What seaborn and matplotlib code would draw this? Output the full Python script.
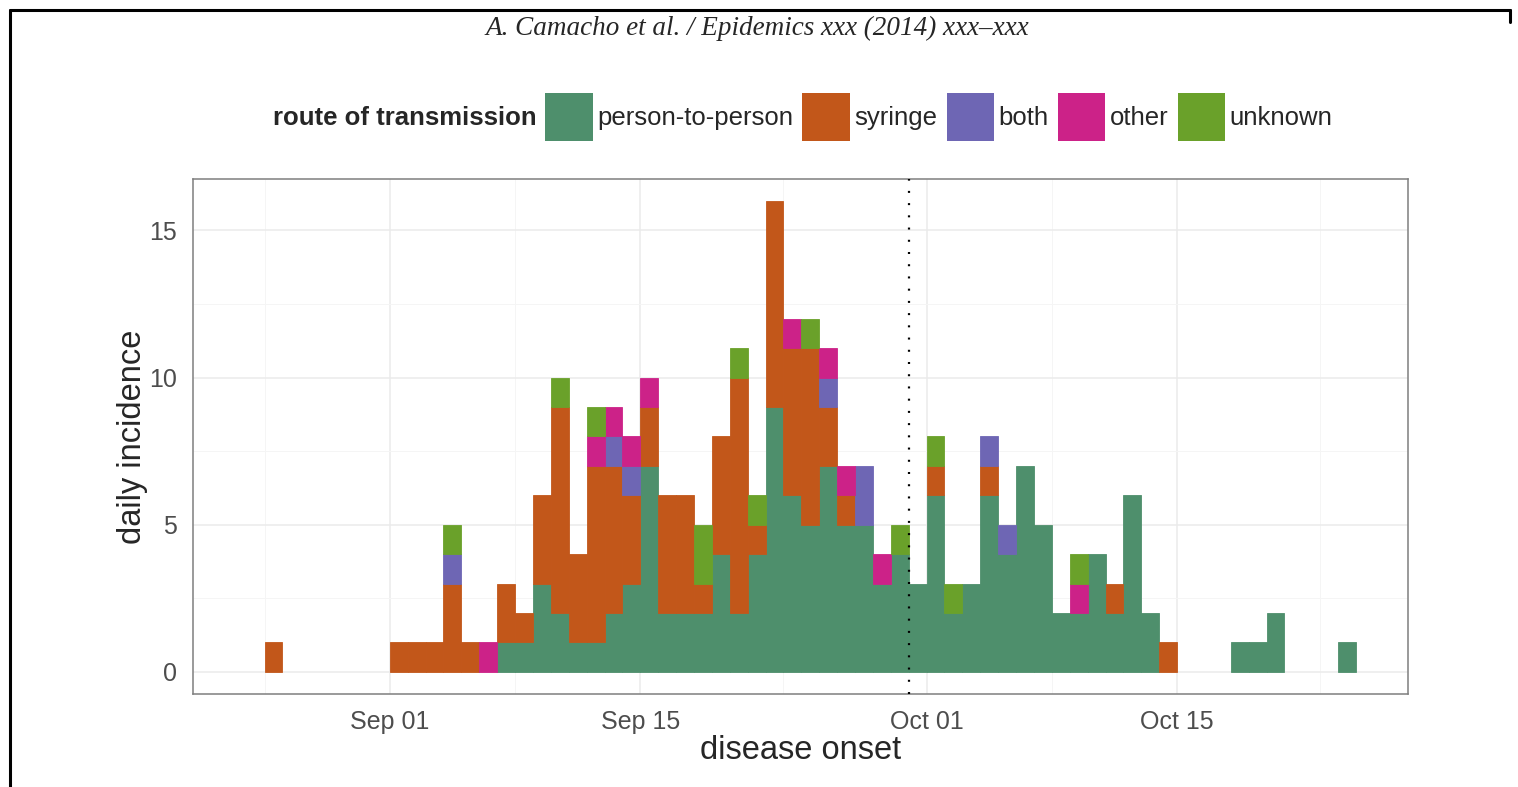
import numpy as np
import pandas as pd
import matplotlib
matplotlib.use("Agg")
import matplotlib.pyplot as plt
import matplotlib.dates as mdates
from matplotlib.patches import Patch
from matplotlib.lines import Line2D
import seaborn as sns

# days with at least one case
onset = ["2014-08-25",
         "2014-09-01", "2014-09-02", "2014-09-03", "2014-09-04", "2014-09-05",
         "2014-09-06", "2014-09-07", "2014-09-08", "2014-09-09", "2014-09-10",
         "2014-09-11", "2014-09-12", "2014-09-13", "2014-09-14", "2014-09-15",
         "2014-09-16", "2014-09-17", "2014-09-18", "2014-09-19", "2014-09-20",
         "2014-09-21", "2014-09-22", "2014-09-23", "2014-09-24", "2014-09-25",
         "2014-09-26", "2014-09-27", "2014-09-28", "2014-09-29", "2014-09-30",
         "2014-10-01", "2014-10-02", "2014-10-03", "2014-10-04", "2014-10-05",
         "2014-10-06", "2014-10-07", "2014-10-08", "2014-10-09", "2014-10-10",
         "2014-10-11", "2014-10-12", "2014-10-13", "2014-10-14",
         "2014-10-18", "2014-10-19", "2014-10-20", "2014-10-24"]

p2p     = [0,
           0, 0, 0, 0, 0, 0, 1, 1, 3, 2, 1, 1, 2, 3, 7, 2, 2, 2, 4, 2,
           4, 9, 6, 5, 7, 5, 5, 3, 4, 3,
           6, 2, 3, 6, 4, 7, 5, 2, 2, 4, 2, 6, 2, 0,
           1, 1, 2, 1]
syringe = [1,
           1, 1, 1, 3, 1, 0, 2, 1, 3, 7, 3, 6, 5, 3, 2, 4, 4, 1, 4, 8,
           1, 7, 5, 6, 2, 1, 0, 0, 0, 0,
           1, 0, 0, 1, 0, 0, 0, 0, 0, 0, 1, 0, 0, 1,
           0, 0, 0, 0]
both    = [0,
           0, 0, 0, 1, 0, 0, 0, 0, 0, 0, 0, 0, 1, 1, 0, 0, 0, 0, 0, 0,
           0, 0, 0, 0, 1, 0, 2, 0, 0, 0,
           0, 0, 0, 1, 1, 0, 0, 0, 0, 0, 0, 0, 0, 0,
           0, 0, 0, 0]
other   = [0,
           0, 0, 0, 0, 0, 1, 0, 0, 0, 0, 0, 1, 1, 1, 1, 0, 0, 0, 0, 0,
           0, 0, 1, 0, 1, 1, 0, 1, 0, 0,
           0, 0, 0, 0, 0, 0, 0, 0, 1, 0, 0, 0, 0, 0,
           0, 0, 0, 0]
unknown = [0,
           0, 0, 0, 1, 0, 0, 0, 0, 0, 1, 0, 1, 0, 0, 0, 0, 0, 2, 0, 1,
           1, 0, 0, 1, 0, 0, 0, 0, 1, 0,
           1, 1, 0, 0, 0, 0, 0, 0, 1, 0, 0, 0, 0, 0,
           0, 0, 0, 0]

routes = ["person-to-person", "syringe", "both", "other", "unknown"]
colors = ["#4E8F6C", "#C2571A", "#6E66B4", "#CC2288", "#6AA12A"]

df = pd.DataFrame({"onset": pd.to_datetime(onset),
                   "person-to-person": p2p, "syringe": syringe,
                   "both": both, "other": other, "unknown": unknown})
long = df.melt(id_vars="onset", var_name="route", value_name="cases")
long = long[long["cases"] > 0].copy()
long["day"] = mdates.date2num(long["onset"])

sns.set_theme(style="whitegrid")
plt.rcParams["font.family"] = ["Liberation Sans", "DejaVu Sans"]

fig = plt.figure(figsize=(15.18, 7.87), dpi=100)
fig.patch.set_facecolor("white")
ax = fig.add_axes([0.1271, 0.1182, 0.8004, 0.6544])

first = mdates.date2num(pd.Timestamp("2014-08-25"))
last = mdates.date2num(pd.Timestamp("2014-10-25"))
sns.histplot(data=long, x="day", weights="cases", hue="route",
             hue_order=routes[::-1], palette=dict(zip(routes, colors)),
             multiple="stack", binwidth=1, binrange=(first, last),
             shrink=1, alpha=1, linewidth=0, legend=False, ax=ax)

# drop empty bars, close the seams between neighbours
for p in list(ax.patches):
    if p.get_height() <= 0:
        p.remove()
    else:
        p.set_edgecolor(p.get_facecolor())
        p.set_linewidth(0.6)

ax.axvline(mdates.date2num(pd.Timestamp("2014-09-30")), color="black",
           lw=1.6, ls=(0, (0.9, 4.6)), zorder=5)

sep1 = mdates.date2num(pd.Timestamp("2014-09-01"))
ax.set_xlim(sep1 - 11.0, sep1 + 56.9)
ax.set_ylim(-0.75, 16.75)

major = pd.to_datetime(["2014-09-01", "2014-09-15", "2014-10-01", "2014-10-15"])
minor = pd.to_datetime(["2014-08-25", "2014-09-08", "2014-09-23", "2014-10-08", "2014-10-23"])
ax.set_xticks(mdates.date2num(major))
ax.set_xticks(mdates.date2num(minor), minor=True)
ax.xaxis.set_major_formatter(mdates.DateFormatter("%b %d"))
ax.set_yticks([0, 5, 10, 15])
ax.set_yticks([2.5, 7.5, 12.5], minor=True)

ax.grid(which="major", color="#EBEBEB", lw=1.1)
ax.grid(which="minor", color="#F5F5F5", lw=0.7)
ax.set_axisbelow(True)
for s in ax.spines.values():
    s.set_color("#7F7F7F")
    s.set_linewidth(1.1)

ax.tick_params(axis="both", which="major", length=6.5, width=1.1,
               color="#333333", labelsize=18, labelcolor="#4D4D4D", pad=5)
ax.tick_params(axis="both", which="minor", length=0)

ax.set_xlabel("disease onset", fontsize=23.5, labelpad=1)
ax.set_ylabel("daily incidence", fontsize=23.5, labelpad=1)

handles = [Patch(facecolor="none", edgecolor="none")] + \
          [Patch(facecolor=c, edgecolor="none") for c in colors]
labels = ["route of transmission"] + routes
leg = fig.legend(handles=handles, labels=labels, ncol=6, loc="center left",
                 bbox_to_anchor=(0.130, 1 - 117 / 787), frameon=False,
                 fontsize=18.5, handlelength=1.85, handleheight=2.47,
                 handletextpad=0.18, columnspacing=0.35, borderpad=0.4)
leg.get_texts()[0].set_fontweight("bold")

fig.text(0.499, 1 - 28 / 787, "A. Camacho et al. / Epidemics xxx (2014) xxx\u2013xxx",
         ha="center", va="center", fontsize=19.5, style="italic",
         family="Liberation Serif")

# page frame of the scanned figure
fig.add_artist(Line2D([10 / 1518, 10 / 1518], [0, 1 - 10 / 787], color="black", lw=2.2))
fig.add_artist(Line2D([10 / 1518, 1510 / 1518], [1 - 10 / 787, 1 - 10 / 787], color="black", lw=2.2))
fig.add_artist(Line2D([1510 / 1518, 1510 / 1518], [1 - 10 / 787, 1 - 22 / 787], color="black", lw=2.2))

fig.savefig("out.png", dpi=100)
